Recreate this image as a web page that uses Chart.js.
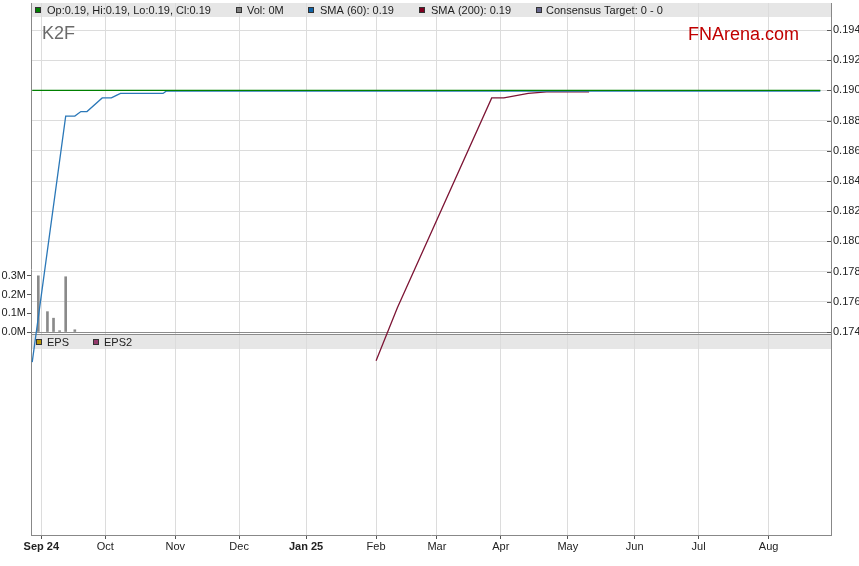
<!DOCTYPE html>
<html>
<head>
<meta charset="utf-8">
<script src="https://cdn.jsdelivr.net/npm/chart.js@4/dist/chart.umd.min.js"></script>
<style>
  html, body { margin: 0; padding: 0; background: #fff; }
</style>
</head>
<body>
<canvas id="chart" width="859" height="566"></canvas>
<script>
// x values are weekday (trading day) numbers, 0 = Mon 2 Sep 2024
const monthIdx = [0, 21, 44, 65, 87, 110, 130, 151, 173, 195, 216, 239];
const monthLabels = ["Sep 24", "Oct", "Nov", "Dec", "Jan 25", "Feb", "Mar", "Apr", "May", "Jun", "Jul", "Aug"];
const priceTicks = [0.174, 0.176, 0.178, 0.180, 0.182, 0.184, 0.186, 0.188, 0.190, 0.192, 0.194];
const volTicks = [0, 100000, 200000, 300000];

const closeIdx = [-3, 256];
const closeVal = [0.19, 0.19];

const sma60Idx = [-3, 8, 11, 13, 15, 20, 23, 24, 25, 26, 40, 41, 256];
const sma60Val = [0.1720, 0.1883, 0.1883, 0.1886, 0.1886, 0.1895, 0.1895, 0.1896, 0.1897, 0.1898, 0.1898, 0.18995, 0.18995];

const sma200Idx = [110, 117, 148, 152, 160, 166, 180];
const sma200Val = [0.1721, 0.1756, 0.1895, 0.1895, 0.1898, 0.1899, 0.1899];

const volIdx = [-1, 2, 4, 6, 8, 11];
const volVal = [301000, 109000, 74000, 7000, 296000, 12000];

const pts = (xs, ys) => xs.map((x, i) => ({ x: x, y: ys[i] }));

Chart.defaults.font.family = "'Liberation Sans', Arial, sans-serif";
Chart.defaults.font.size = 11;
Chart.defaults.color = "#222";

function square(ctx, x, y, color) {
  ctx.fillStyle = color;
  ctx.fillRect(x, y, 6, 6);
  ctx.strokeStyle = "#333";
  ctx.lineWidth = 1;
  ctx.strokeRect(x + 0.5, y + 0.5, 5, 5);
}

// vertical axes: no automatic half-label padding, so the plot starts right under the top edge
function noPad(s) {
  s.paddingTop = 0;
  s.paddingBottom = 0;
}

const panels = {
  id: "panels",
  beforeDraw(chart) {
    const { ctx, chartArea: a } = chart;
    const yb = Math.round(chart.scales.y.getPixelForValue(0.174));
    ctx.save();
    ctx.fillStyle = "#e6e6e6";
    ctx.fillRect(a.left, a.top, a.right - a.left, 14);
    ctx.fillRect(a.left, yb + 3, a.right - a.left, 14);
    ctx.restore();
  },
  beforeDatasetsDraw(chart) {
    const { ctx, chartArea: a } = chart;
    const yb = Math.round(chart.scales.y.getPixelForValue(0.174));
    ctx.save();
    ctx.strokeStyle = "#8c8c8c";
    ctx.lineWidth = 1;
    ctx.beginPath();
    ctx.moveTo(a.left, yb + 0.5); ctx.lineTo(a.right, yb + 0.5);
    ctx.moveTo(a.left, yb + 2.5); ctx.lineTo(a.right, yb + 2.5);
    ctx.stroke();
    // inner tick marks on the price axis
    ctx.strokeStyle = "#555";
    ctx.beginPath();
    priceTicks.forEach(v => {
      const y = Math.round(chart.scales.y.getPixelForValue(v)) + 0.5;
      ctx.moveTo(a.right - 4, y); ctx.lineTo(a.right, y);
    });
    ctx.stroke();
    ctx.restore();
  },
  afterDraw(chart) {
    const { ctx, chartArea: a } = chart;
    const yb = Math.round(chart.scales.y.getPixelForValue(0.174));
    ctx.save();
    ctx.font = "11px 'Liberation Sans', Arial, sans-serif";
    ctx.textBaseline = "middle";
    const top = [
      [35, 47, "#008000", "Op:0.19, Hi:0.19, Lo:0.19, Cl:0.19"],
      [236, 247, "#808080", "Vol: 0M"],
      [308, 320, "#0f63a8", "SMA (60): 0.19"],
      [419, 431, "#800020", "SMA (200): 0.19"],
      [536, 546, "#66668c", "Consensus Target: 0 - 0"]
    ];
    top.forEach(([sx, tx, c, t]) => {
      square(ctx, sx, a.top + 4, c);
      ctx.fillStyle = "#222";
      ctx.fillText(t, tx, a.top + 7.5);
    });
    const eps = [
      [36, 47, "#b8960b", "EPS"],
      [93, 104, "#943a6c", "EPS2"]
    ];
    eps.forEach(([sx, tx, c, t]) => {
      square(ctx, sx, yb + 7, c);
      ctx.fillStyle = "#222";
      ctx.fillText(t, tx, yb + 10.5);
    });
    ctx.textBaseline = "alphabetic";
    ctx.font = "18px 'Liberation Sans', Arial, sans-serif";
    ctx.fillStyle = "#6a6a6a";
    ctx.fillText("K2F", 42, 39);
    ctx.fillStyle = "#c00000";
    ctx.fillText("FNArena.com", 688, 40);
    ctx.restore();
  }
};

new Chart(document.getElementById("chart"), {
  type: "line",
  data: {
    datasets: [
      {
        label: "Close",
        data: pts(closeIdx, closeVal),
        borderColor: "#008000",
        borderWidth: 1.3,
        pointRadius: 0,
        yAxisID: "y",
        order: 0
      },
      {
        label: "SMA (60)",
        data: pts(sma60Idx, sma60Val),
        borderColor: "#2b78b8",
        borderWidth: 1.3,
        pointRadius: 0,
        yAxisID: "y",
        order: 1
      },
      {
        label: "SMA (200)",
        data: pts(sma200Idx, sma200Val),
        borderColor: "#7d1535",
        borderWidth: 1.3,
        pointRadius: 0,
        yAxisID: "y",
        order: 2
      },
      {
        type: "bar",
        label: "Vol",
        data: pts(volIdx, volVal),
        backgroundColor: "#8a8a8a",
        barThickness: 2,
        yAxisID: "vol",
        order: 3
      }
    ]
  },
  options: {
    responsive: false,
    animation: false,
    devicePixelRatio: 1,
    layout: { padding: { top: 3, left: 0, right: 0, bottom: 0 } },
    plugins: { legend: { display: false }, tooltip: { enabled: false } },
    scales: {
      x: {
        type: "linear",
        position: "bottom",
        min: -3.4,
        max: 259.5,
        offset: false,
        afterBuildTicks: s => { s.ticks = monthIdx.map(v => ({ value: v })); },
        afterFit: s => { s.height = 31; },
        grid: { color: "#dcdcdc", offset: false, tickColor: "#555", tickLength: 4 },
        border: { color: "#888" },
        ticks: {
          autoSkip: false,
          maxRotation: 0,
          padding: 1,
          color: "#222",
          callback: v => monthLabels[monthIdx.indexOf(v)],
          font: c => ({ size: 11, weight: (c.tick && /\d/.test(c.tick.label)) ? "bold" : "normal" })
        }
      },
      y: {
        type: "linear",
        position: "right",
        min: 0.1605563,
        max: 0.1957881,
        bounds: "data",
        afterBuildTicks: s => { s.ticks = priceTicks.map(v => ({ value: v })); },
        afterFit: s => { s.width = 28; noPad(s); },
        grid: { color: "#dcdcdc", drawTicks: false },
        border: { color: "#888" },
        ticks: { padding: 2, color: "#222", callback: v => v.toFixed(3) }
      },
      vol: {
        type: "linear",
        position: "left",
        min: -1087500,
        max: 1762500,
        bounds: "data",
        afterBuildTicks: s => { s.ticks = volTicks.map(v => ({ value: v })); },
        afterFit: s => { s.width = 31; noPad(s); },
        grid: { drawOnChartArea: false, tickColor: "#555", tickLength: 4 },
        border: { color: "#888" },
        ticks: { padding: 1, color: "#222", callback: v => (v / 1e6).toFixed(1) + "M" }
      }
    }
  },
  plugins: [panels]
});
</script>
</body>
</html>
